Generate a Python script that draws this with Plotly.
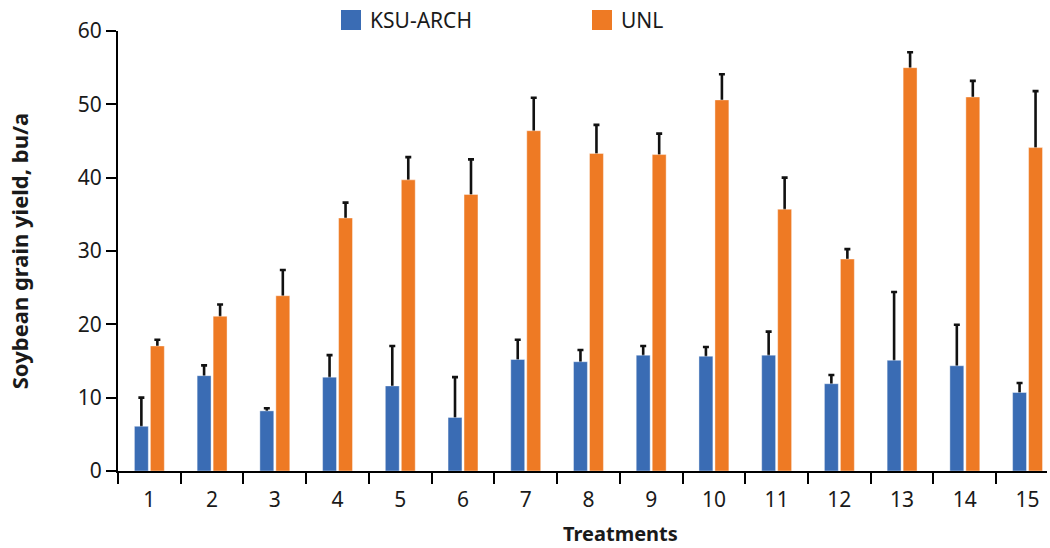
import plotly.graph_objects as go

treatments = [str(i) for i in range(1, 16)]
ksu_yield = [6.1, 13.0, 8.2, 12.8, 11.6, 7.3, 15.2, 14.9, 15.8, 15.65, 15.8, 11.9, 15.1, 14.35, 10.7]
ksu_err = [3.9, 1.4, 0.35, 3.0, 5.45, 5.5, 2.7, 1.6, 1.25, 1.25, 3.2, 1.2, 9.3, 5.6, 1.3]
unl_yield = [17.05, 21.1, 23.9, 34.5, 39.7, 37.7, 46.4, 43.3, 43.15, 50.6, 35.7, 28.9, 55.0, 51.0, 44.1]
unl_err = [0.85, 1.6, 3.5, 2.1, 3.1, 4.8, 4.5, 3.9, 2.85, 3.5, 4.3, 1.35, 2.1, 2.2, 7.7]

BLUE = "#3A6CB4"
ORANGE = "#EE7A24"
FONT = "Noto Sans"

fig = go.Figure()

# error bars first (hidden bars), then real bars drawn on top to hide the lower half
for name, vals, errs, grp in [("KSU-ARCH", ksu_yield, ksu_err, "k"), ("UNL", unl_yield, unl_err, "u")]:
    fig.add_trace(go.Bar(
        x=treatments, y=vals, offsetgroup=grp, showlegend=False, hoverinfo="skip",
        marker=dict(color="rgba(0,0,0,0)", line=dict(width=0)),
        error_y=dict(type="data", array=errs, visible=True, color="#111111", thickness=2.6, width=3),
    ))

fig.add_trace(go.Bar(x=treatments, y=ksu_yield, name="KSU-ARCH", offsetgroup="k",
                     marker=dict(color=BLUE, line=dict(color="rgba(255,255,255,0.5)", width=0.8))))
fig.add_trace(go.Bar(x=treatments, y=unl_yield, name="UNL", offsetgroup="u",
                     marker=dict(color=ORANGE, line=dict(color="rgba(255,255,255,0.5)", width=0.8))))

# manual legend (square swatches + labels)
L, R, T, B = 118, 1047, 31, 471
W, H = R - L, B - T
def px(x):
    return (x - L) / W
def py(y):
    return (B - y) / H

shapes = []
annotations = []
for label, color, sx in [("KSU-ARCH", BLUE, 341), ("UNL", ORANGE, 592)]:
    shapes.append(dict(type="rect", xref="paper", yref="paper",
                       x0=px(sx), x1=px(sx + 20), y0=py(30), y1=py(10),
                       fillcolor=color, line=dict(width=0)))
    annotations.append(dict(text=label, xref="paper", yref="paper", x=px(sx + 27), y=py(20),
                            xanchor="left", yanchor="middle", showarrow=False,
                            font=dict(family=FONT, size=21, color="#1a1a1a")))

# x-axis title (offset to the right of the plot centre, as in the original)
annotations.append(dict(text="Treatments", xref="paper", yref="paper", x=px(620), y=py(548),
                        xanchor="center", yanchor="bottom", showarrow=False, borderpad=0,
                        font=dict(family=FONT, size=20, weight="bold", color="#1a1a1a")))

fig.update_layout(
    width=1050, height=548,
    margin=dict(l=L, r=1050 - R, t=T, b=548 - B, autoexpand=False),
    paper_bgcolor="white", plot_bgcolor="white",
    barmode="group", bargap=0.49, bargroupgap=0.13,
    showlegend=False,
    shapes=shapes, annotations=annotations,
    font=dict(family=FONT, color="#1a1a1a"),
)

fig.update_xaxes(
    type="category", range=[-0.5, 14.31], automargin=False,
    showline=True, linecolor="black", linewidth=2,
    ticks="outside", tickson="boundaries", ticklen=11, tickwidth=2, tickcolor="black",
    tickfont=dict(family=FONT, size=21, color="#1a1a1a"),
    ticklabelstandoff=9,
    showgrid=False, zeroline=False,
)
fig.update_yaxes(
    range=[0, 60], dtick=10, tick0=0, automargin=False,
    showline=True, linecolor="black", linewidth=2,
    ticks="outside", ticklen=10, tickwidth=2, tickcolor="black",
    tickfont=dict(family=FONT, size=21, color="#1a1a1a"),
    showgrid=False, zeroline=False,
    title=dict(text="Soybean grain yield, bu/a", font=dict(family=FONT, size=22, weight="bold", color="#1a1a1a"), standoff=43),
)

fig.write_html("out.html", config={"displayModeBar": False},
               post_script="document.body.style.margin='0';document.body.style.overflow='hidden';")
